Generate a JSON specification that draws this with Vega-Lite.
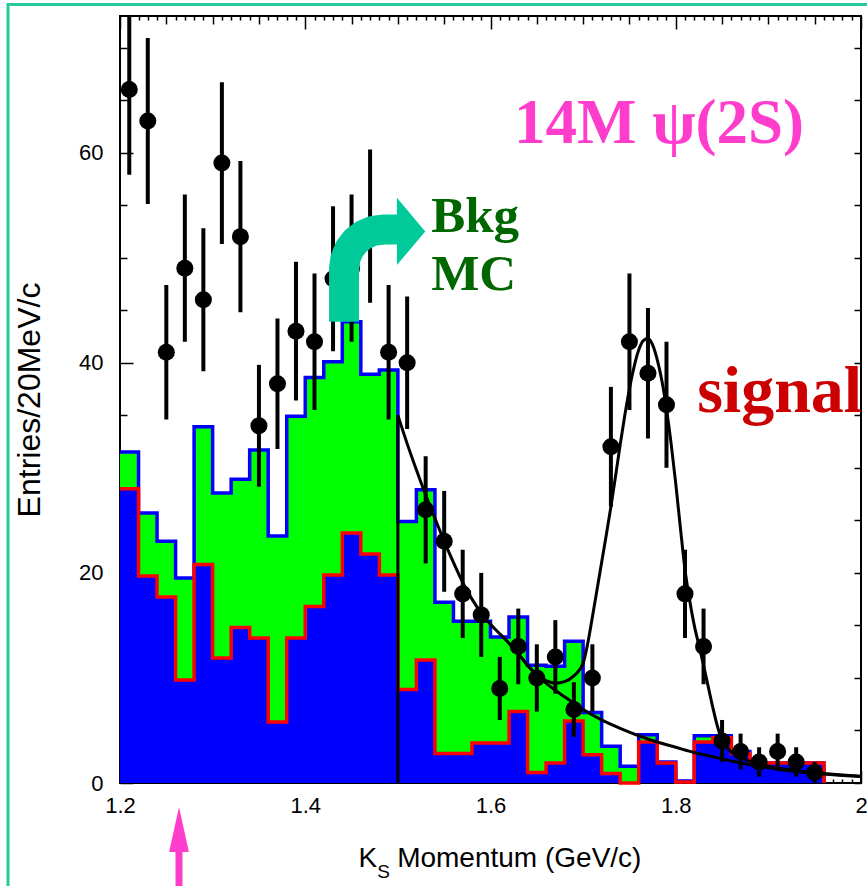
{
  "$schema": "https://vega.github.io/schema/vega-lite/v6.json",
  "width": 741,
  "height": 767,
  "autosize": {"type": "none"},
  "padding": {"left": 120, "top": 16, "right": 6, "bottom": 103},
  "background": "white",
  "config": {
    "view": {"stroke": "black", "strokeWidth": 2},
    "font": "Liberation Sans"
  },
  "datasets": {
    "hist": [
      {"lo": 1.20, "total": 31.5, "comp": 28.0},
      {"lo": 1.22, "total": 25.7, "comp": 19.7},
      {"lo": 1.24, "total": 23.0, "comp": 17.7},
      {"lo": 1.26, "total": 19.5, "comp": 9.8},
      {"lo": 1.28, "total": 33.9, "comp": 20.8},
      {"lo": 1.30, "total": 27.6, "comp": 11.9},
      {"lo": 1.32, "total": 28.9, "comp": 14.8},
      {"lo": 1.34, "total": 31.7, "comp": 13.8},
      {"lo": 1.36, "total": 23.5, "comp": 5.8},
      {"lo": 1.38, "total": 34.9, "comp": 13.8},
      {"lo": 1.40, "total": 38.6, "comp": 16.8},
      {"lo": 1.42, "total": 40.1, "comp": 19.8},
      {"lo": 1.44, "total": 43.9, "comp": 23.8},
      {"lo": 1.46, "total": 38.9, "comp": 21.8},
      {"lo": 1.48, "total": 39.3, "comp": 19.8},
      {"lo": 1.50, "total": 24.9, "comp": 8.9},
      {"lo": 1.52, "total": 27.9, "comp": 11.7},
      {"lo": 1.54, "total": 17.2, "comp": 2.8},
      {"lo": 1.56, "total": 15.4, "comp": 2.8},
      {"lo": 1.58, "total": 15.4, "comp": 3.8},
      {"lo": 1.60, "total": 13.9, "comp": 3.8},
      {"lo": 1.62, "total": 15.8, "comp": 6.8},
      {"lo": 1.64, "total": 11.2, "comp": 1.0},
      {"lo": 1.66, "total": 11.1, "comp": 1.9},
      {"lo": 1.68, "total": 13.5, "comp": 5.9},
      {"lo": 1.70, "total": 6.7, "comp": 2.7},
      {"lo": 1.72, "total": 3.5, "comp": 0.9},
      {"lo": 1.74, "total": 1.6, "comp": 0.0},
      {"lo": 1.76, "total": 4.6, "comp": 3.9},
      {"lo": 1.78, "total": 2.0, "comp": 1.9},
      {"lo": 1.80, "total": 0.2, "comp": 0.1},
      {"lo": 1.82, "total": 4.5, "comp": 3.9},
      {"lo": 1.84, "total": 4.5, "comp": 4.3},
      {"lo": 1.86, "total": 3.0, "comp": 2.8},
      {"lo": 1.88, "total": 1.9, "comp": 1.9},
      {"lo": 1.90, "total": 1.9, "comp": 1.9},
      {"lo": 1.92, "total": 1.9, "comp": 1.9},
      {"lo": 1.94, "total": 1.9, "comp": 1.9},
      {"lo": 1.96, "total": 0.0, "comp": 0.0}
    ],
    "points": [
      {"p": 1.21, "n": 66, "lo": 57.9, "hi": 74.1},
      {"p": 1.23, "n": 63, "lo": 55.1, "hi": 70.9},
      {"p": 1.25, "n": 41, "lo": 34.6, "hi": 47.4},
      {"p": 1.27, "n": 49, "lo": 42.0, "hi": 56.0},
      {"p": 1.29, "n": 46, "lo": 39.2, "hi": 52.8},
      {"p": 1.31, "n": 59, "lo": 51.3, "hi": 66.7},
      {"p": 1.33, "n": 52, "lo": 44.8, "hi": 59.2},
      {"p": 1.35, "n": 34, "lo": 28.2, "hi": 39.8},
      {"p": 1.37, "n": 38, "lo": 31.8, "hi": 44.2},
      {"p": 1.39, "n": 43, "lo": 36.4, "hi": 49.6},
      {"p": 1.41, "n": 42, "lo": 35.5, "hi": 48.5},
      {"p": 1.43, "n": 48, "lo": 41.1, "hi": 54.9},
      {"p": 1.45, "n": 49, "lo": 42.0, "hi": 56.0},
      {"p": 1.47, "n": 53, "lo": 45.7, "hi": 60.3},
      {"p": 1.49, "n": 41, "lo": 34.6, "hi": 47.4},
      {"p": 1.51, "n": 40, "lo": 33.7, "hi": 46.3},
      {"p": 1.53, "n": 26, "lo": 20.9, "hi": 31.1},
      {"p": 1.55, "n": 23, "lo": 18.2, "hi": 27.8},
      {"p": 1.57, "n": 18, "lo": 13.8, "hi": 22.2},
      {"p": 1.59, "n": 16, "lo": 12.0, "hi": 20.0},
      {"p": 1.61, "n": 9, "lo": 6.0, "hi": 12.0},
      {"p": 1.63, "n": 13, "lo": 9.4, "hi": 16.6},
      {"p": 1.65, "n": 10, "lo": 6.8, "hi": 13.2},
      {"p": 1.67, "n": 12, "lo": 8.5, "hi": 15.5},
      {"p": 1.69, "n": 7, "lo": 4.4, "hi": 9.6},
      {"p": 1.71, "n": 10, "lo": 6.8, "hi": 13.2},
      {"p": 1.73, "n": 32, "lo": 26.3, "hi": 37.7},
      {"p": 1.75, "n": 42, "lo": 35.5, "hi": 48.5},
      {"p": 1.77, "n": 39, "lo": 32.8, "hi": 45.2},
      {"p": 1.79, "n": 36, "lo": 30.0, "hi": 42.0},
      {"p": 1.81, "n": 18, "lo": 13.8, "hi": 22.2},
      {"p": 1.83, "n": 13, "lo": 9.4, "hi": 16.6},
      {"p": 1.85, "n": 4, "lo": 2.0, "hi": 6.0},
      {"p": 1.87, "n": 3, "lo": 1.3, "hi": 4.7},
      {"p": 1.89, "n": 2, "lo": 0.6, "hi": 3.4},
      {"p": 1.91, "n": 3, "lo": 1.3, "hi": 4.7},
      {"p": 1.93, "n": 2, "lo": 0.6, "hi": 3.4},
      {"p": 1.95, "n": 1, "lo": 0.0, "hi": 2.0}
    ],
    "bkgfit": [
      {"p": 1.50, "f": 35.0}, {"p": 1.51, "f": 32.3}, {"p": 1.52, "f": 29.8},
      {"p": 1.53, "f": 27.4}, {"p": 1.54, "f": 25.2}, {"p": 1.55, "f": 23.0},
      {"p": 1.56, "f": 21.0}, {"p": 1.57, "f": 19.1}, {"p": 1.58, "f": 17.5},
      {"p": 1.59, "f": 16.2}, {"p": 1.60, "f": 15.1}, {"p": 1.61, "f": 14.2},
      {"p": 1.62, "f": 13.3}, {"p": 1.63, "f": 12.3}, {"p": 1.64, "f": 11.2},
      {"p": 1.65, "f": 10.3}, {"p": 1.66, "f": 9.5}, {"p": 1.68, "f": 8.2},
      {"p": 1.70, "f": 7.0}, {"p": 1.72, "f": 6.0}, {"p": 1.74, "f": 5.2},
      {"p": 1.76, "f": 4.5}, {"p": 1.78, "f": 3.9}, {"p": 1.80, "f": 3.4},
      {"p": 1.82, "f": 2.9}, {"p": 1.84, "f": 2.5}, {"p": 1.86, "f": 2.1},
      {"p": 1.88, "f": 1.75}, {"p": 1.90, "f": 1.45}, {"p": 1.92, "f": 1.2},
      {"p": 1.94, "f": 1.0}, {"p": 1.96, "f": 0.85}, {"p": 1.98, "f": 0.72},
      {"p": 2.00, "f": 0.62}
    ],
    "totfit": [
      {"p": 1.62, "f": 13.3}, {"p": 1.63, "f": 12.3}, {"p": 1.64, "f": 11.2},
      {"p": 1.65, "f": 10.3}, {"p": 1.66, "f": 9.75}, {"p": 1.67, "f": 9.5},
      {"p": 1.68, "f": 9.65}, {"p": 1.69, "f": 10.2}, {"p": 1.70, "f": 11.4},
      {"p": 1.705, "f": 13.3}, {"p": 1.71, "f": 15.8}, {"p": 1.715, "f": 18.4},
      {"p": 1.72, "f": 21.0}, {"p": 1.725, "f": 23.6}, {"p": 1.73, "f": 26.3},
      {"p": 1.735, "f": 29.2}, {"p": 1.74, "f": 32.2}, {"p": 1.745, "f": 35.0},
      {"p": 1.75, "f": 37.5}, {"p": 1.755, "f": 39.6}, {"p": 1.76, "f": 41.2},
      {"p": 1.765, "f": 42.1}, {"p": 1.77, "f": 42.3}, {"p": 1.775, "f": 41.7},
      {"p": 1.78, "f": 40.3}, {"p": 1.785, "f": 38.3}, {"p": 1.79, "f": 35.6},
      {"p": 1.795, "f": 32.3}, {"p": 1.80, "f": 28.5}, {"p": 1.805, "f": 24.3},
      {"p": 1.81, "f": 20.3}, {"p": 1.815, "f": 17.4}, {"p": 1.82, "f": 15.0},
      {"p": 1.825, "f": 13.1}, {"p": 1.83, "f": 11.2}, {"p": 1.835, "f": 9.2},
      {"p": 1.84, "f": 7.2}, {"p": 1.845, "f": 5.4}, {"p": 1.85, "f": 4.1},
      {"p": 1.855, "f": 3.4}, {"p": 1.86, "f": 2.95}, {"p": 1.87, "f": 2.45},
      {"p": 1.88, "f": 2.05}, {"p": 1.90, "f": 1.6}, {"p": 1.92, "f": 1.3},
      {"p": 1.94, "f": 1.07}, {"p": 1.96, "f": 0.9}, {"p": 1.98, "f": 0.76},
      {"p": 2.00, "f": 0.65}
    ],
    "arrow": [
      {"i": 0, "p": 1.44190, "v": 43.90},
      {"i": 1, "p": 1.44190, "v": 48.95},
      {"i": 2, "p": 1.44334, "v": 49.91},
      {"i": 3, "p": 1.44755, "v": 50.81},
      {"i": 4, "p": 1.45423, "v": 51.58},
      {"i": 5, "p": 1.46296, "v": 52.17},
      {"i": 6, "p": 1.47312, "v": 52.54},
      {"i": 7, "p": 1.48402, "v": 52.67},
      {"i": 8, "p": 1.50238, "v": 52.67}
    ]
  },
  "resolve": {"axis": {"x": "independent", "y": "independent"}},
  "layer": [
    {
      "data": {"values": [{}]},
      "mark": {"type": "rect", "fill": "transparent", "stroke": "#26c99b", "strokeWidth": 3},
      "encoding": {
        "x": {"datum": 1.0791, "axis": null},
        "x2": {"datum": 2.03},
        "y": {"datum": 74.1, "axis": null},
        "y2": {"datum": -12}
      }
    },
    {
      "data": {"name": "hist"},
      "mark": {"type": "area", "interpolate": "step-after", "color": "#00ff00"},
      "encoding": {
        "x": {
          "field": "lo", "type": "quantitative",
          "scale": {"domain": [1.2, 2.0], "nice": false, "zero": false},
          "axis": {
            "orient": "bottom", "title": null, "domain": false, "grid": false,
            "values": [1.2,1.21,1.22,1.23,1.24,1.25,1.26,1.27,1.28,1.29,1.3,1.31,1.32,1.33,1.34,1.35,1.36,1.37,1.38,1.39,1.4,1.41,1.42,1.43,1.44,1.45,1.46,1.47,1.48,1.49,1.5,1.51,1.52,1.53,1.54,1.55,1.56,1.57,1.58,1.59,1.6,1.61,1.62,1.63,1.64,1.65,1.66,1.67,1.68,1.69,1.7,1.71,1.72,1.73,1.74,1.75,1.76,1.77,1.78,1.79,1.8,1.81,1.82,1.83,1.84,1.85,1.86,1.87,1.88,1.89,1.9,1.91,1.92,1.93,1.94,1.95,1.96,1.97,1.98,1.99,2.0],
            "tickColor": "black", "tickWidth": 1.5,
            "tickSize": {"condition": [
              {"test": "round(datum.value*100) % 20 === 0", "value": -13},
              {"test": "round(datum.value*100) % 5 === 0", "value": -8}
            ], "value": -4},
            "labelExpr": "round(datum.value*100) % 20 === 0 ? (round(datum.value*100) === 200 ? '2' : format(datum.value, '.1f')) : ''",
            "labelFont": "Liberation Sans", "labelFontSize": 22, "labelColor": "black",
            "labelPadding": 25, "labelFlush": false, "labelOverlap": false, "labelBound": false
          }
        },
        "y": {
          "field": "total", "type": "quantitative",
          "scale": {"domain": [0, 73], "nice": false},
          "axis": {
            "orient": "left", "title": "Entries/20MeV/c", "domain": false, "grid": false,
            "values": [0,5,10,15,20,25,30,35,40,45,50,55,60,65,70],
            "tickColor": "black", "tickWidth": 1.5,
            "tickSize": {"condition": {"test": "datum.value % 20 === 0", "value": -13}, "value": -7},
            "labelExpr": "datum.value % 20 === 0 ? datum.label : ''",
            "labelFont": "Liberation Sans", "labelFontSize": 22, "labelColor": "black",
            "labelPadding": 30, "labelOverlap": false, "labelBound": false,
            "titleFont": "Liberation Sans", "titleFontSize": 32, "titleFontWeight": "normal",
            "titleColor": "black", "titlePadding": 32
          }
        }
      }
    },
    {
      "data": {"name": "hist"},
      "mark": {"type": "line", "interpolate": "step-after", "color": "#0000ff", "strokeWidth": 3.5},
      "encoding": {
        "x": {
          "field": "lo", "type": "quantitative",
          "axis": {
            "orient": "top", "title": null, "domain": false, "grid": false, "labels": false,
            "values": [1.2,1.21,1.22,1.23,1.24,1.25,1.26,1.27,1.28,1.29,1.3,1.31,1.32,1.33,1.34,1.35,1.36,1.37,1.38,1.39,1.4,1.41,1.42,1.43,1.44,1.45,1.46,1.47,1.48,1.49,1.5,1.51,1.52,1.53,1.54,1.55,1.56,1.57,1.58,1.59,1.6,1.61,1.62,1.63,1.64,1.65,1.66,1.67,1.68,1.69,1.7,1.71,1.72,1.73,1.74,1.75,1.76,1.77,1.78,1.79,1.8,1.81,1.82,1.83,1.84,1.85,1.86,1.87,1.88,1.89,1.9,1.91,1.92,1.93,1.94,1.95,1.96,1.97,1.98,1.99,2.0],
            "tickColor": "black", "tickWidth": 1.5,
            "tickSize": {"condition": [
              {"test": "round(datum.value*100) % 20 === 0", "value": -13},
              {"test": "round(datum.value*100) % 5 === 0", "value": -8}
            ], "value": -4}
          }
        },
        "y": {
          "field": "total", "type": "quantitative",
          "axis": {
            "orient": "right", "title": null, "domain": false, "grid": false, "labels": false,
            "values": [0,5,10,15,20,25,30,35,40,45,50,55,60,65,70],
            "tickColor": "black", "tickWidth": 1.5, "tickSize": -7
          }
        }
      }
    },
    {
      "data": {"name": "hist"},
      "mark": {"type": "area", "interpolate": "step-after", "color": "#0000ff"},
      "encoding": {
        "x": {"field": "lo", "type": "quantitative", "axis": null},
        "y": {"field": "comp", "type": "quantitative", "axis": null}
      }
    },
    {
      "data": {"name": "hist"},
      "mark": {"type": "line", "interpolate": "step-after", "color": "#ff0000", "strokeWidth": 3.5},
      "encoding": {
        "x": {"field": "lo", "type": "quantitative", "axis": null},
        "y": {"field": "comp", "type": "quantitative", "axis": null}
      }
    },
    {
      "data": {"values": [{}]},
      "mark": {"type": "rule", "color": "black", "strokeWidth": 3},
      "encoding": {
        "x": {"datum": 1.5, "axis": null},
        "y": {"datum": 0, "axis": null},
        "y2": {"datum": 35}
      }
    },
    {
      "data": {"name": "bkgfit"},
      "mark": {"type": "line", "interpolate": "monotone", "color": "black", "strokeWidth": 3},
      "encoding": {
        "x": {"field": "p", "type": "quantitative", "axis": null},
        "y": {"field": "f", "type": "quantitative", "axis": null}
      }
    },
    {
      "data": {"name": "totfit"},
      "mark": {"type": "line", "interpolate": "monotone", "color": "black", "strokeWidth": 3},
      "encoding": {
        "x": {"field": "p", "type": "quantitative", "axis": null},
        "y": {"field": "f", "type": "quantitative", "axis": null}
      }
    },
    {
      "data": {"name": "points"},
      "mark": {"type": "rule", "color": "black", "strokeWidth": 4, "clip": true},
      "encoding": {
        "x": {"field": "p", "type": "quantitative", "axis": null},
        "y": {"field": "lo", "type": "quantitative", "axis": null},
        "y2": {"field": "hi"}
      }
    },
    {
      "data": {"name": "points"},
      "mark": {"type": "point", "shape": "circle", "filled": true, "color": "black", "opacity": 1, "size": 290},
      "encoding": {
        "x": {"field": "p", "type": "quantitative", "axis": null},
        "y": {"field": "n", "type": "quantitative", "axis": null}
      }
    },
    {
      "data": {"name": "arrow"},
      "mark": {"type": "line", "color": "#00c99a", "strokeWidth": 30, "strokeCap": "butt", "strokeJoin": "round"},
      "encoding": {
        "x": {"field": "p", "type": "quantitative", "axis": null},
        "y": {"field": "v", "type": "quantitative", "axis": null},
        "order": {"field": "i"}
      }
    },
    {
      "data": {"values": [{}]},
      "mark": {"type": "point", "shape": "M -0.42 -1 L 0.42 0 L -0.42 1 Z", "filled": true, "color": "#00c99a", "opacity": 1, "size": 4540},
      "encoding": {
        "x": {"datum": 1.51425, "axis": null},
        "y": {"datum": 52.5, "axis": null}
      }
    },
    {
      "data": {"values": [{}]},
      "mark": {"type": "text", "text": "14M \u03c8(2S)", "font": "Liberation Serif", "fontWeight": "bold", "fontSize": 63, "color": "#ff3dcc", "align": "center", "baseline": "alphabetic"},
      "encoding": {
        "x": {"datum": 1.782, "axis": null},
        "y": {"datum": 60.95, "axis": null}
      }
    },
    {
      "data": {"values": [{}]},
      "mark": {"type": "text", "text": "Bkg", "font": "Liberation Serif", "fontWeight": "bold", "fontSize": 51, "color": "#006600", "align": "left", "baseline": "alphabetic"},
      "encoding": {
        "x": {"datum": 1.5359, "axis": null},
        "y": {"datum": 52.48, "axis": null}
      }
    },
    {
      "data": {"values": [{}]},
      "mark": {"type": "text", "text": "MC", "font": "Liberation Serif", "fontWeight": "bold", "fontSize": 51, "color": "#006600", "align": "left", "baseline": "alphabetic"},
      "encoding": {
        "x": {"datum": 1.5359, "axis": null},
        "y": {"datum": 46.95, "axis": null}
      }
    },
    {
      "data": {"values": [{}]},
      "mark": {"type": "text", "text": "signal", "font": "Liberation Serif", "fontWeight": "bold", "fontSize": 66, "color": "#cc0000", "align": "left", "baseline": "alphabetic"},
      "encoding": {
        "x": {"datum": 1.8231, "axis": null},
        "y": {"datum": 35.33, "axis": null}
      }
    },
    {
      "data": {"values": [{}]},
      "mark": {"type": "rule", "color": "#ff3dcc", "strokeWidth": 7},
      "encoding": {
        "x": {"datum": 1.26371, "axis": null},
        "y": {"datum": -6.3, "axis": null},
        "y2": {"datum": -11.5}
      }
    },
    {
      "data": {"values": [{}]},
      "mark": {"type": "point", "shape": "M 0 -1 L 0.44 1 L -0.44 1 Z", "filled": true, "color": "#ff3dcc", "opacity": 1, "size": 2025},
      "encoding": {
        "x": {"datum": 1.26371, "axis": null},
        "y": {"datum": -4.43, "axis": null}
      }
    },
    {
      "data": {"values": [{}]},
      "mark": {"type": "text", "text": "K", "font": "Liberation Sans", "fontSize": 28, "color": "black", "align": "right", "baseline": "alphabetic"},
      "encoding": {
        "x": {"datum": 1.4776, "axis": null},
        "y": {"datum": -8.0, "axis": null}
      }
    },
    {
      "data": {"values": [{}]},
      "mark": {"type": "text", "text": "S", "font": "Liberation Sans", "fontSize": 19, "color": "black", "align": "left", "baseline": "alphabetic"},
      "encoding": {
        "x": {"datum": 1.4776, "axis": null},
        "y": {"datum": -9.0, "axis": null}
      }
    },
    {
      "data": {"values": [{}]},
      "mark": {"type": "text", "text": "Momentum (GeV/c)", "font": "Liberation Sans", "fontSize": 28, "color": "black", "align": "left", "baseline": "alphabetic"},
      "encoding": {
        "x": {"datum": 1.4992, "axis": null},
        "y": {"datum": -8.0, "axis": null}
      }
    }
  ]
}
